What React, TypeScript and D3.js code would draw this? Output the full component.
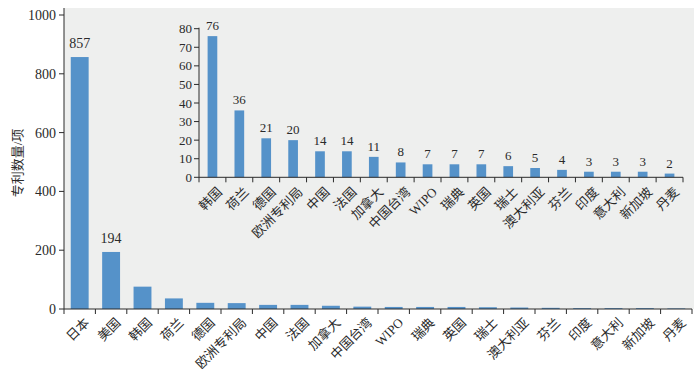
import * as d3 from 'd3';

// 国家/机构
const countries = [
  '日本', '美国', '韩国', '荷兰', '德国', '欧洲专利局', '中国', '法国', '加拿大', '中国台湾',
  'WIPO', '瑞典', '英国', '瑞士', '澳大利亚', '芬兰', '印度', '意大利', '新加坡', '丹麦',
];
// 专利数量
const counts = [857, 194, 76, 36, 21, 20, 14, 14, 11, 8, 7, 7, 7, 6, 5, 4, 3, 3, 3, 2];
const mainTicks = [0, 200, 400, 600, 800, 1000];
const insetTicks = [0, 10, 20, 30, 40, 50, 60, 70, 80];
const labelledMain = ['日本', '美国'];

const insetCountries = countries.slice(2);
const insetCounts = counts.slice(2);

const FONT = '"Liberation Serif", "Times New Roman", "Noto Sans CJK SC", serif';
const BAR = '#5592c9';
const INK = '#2a2a2a';

const App = () => {
  // main chart
  const left = 64, right = 692, top = 8, bottom = 309;
  const x = d3.scaleBand<string>().domain(countries).range([left, right])
    .paddingInner(0.43).paddingOuter(0.215);
  const y = d3.scaleLinear().domain([0, 1000]).range([bottom, 15]);
  const step = x.step();

  // inset chart
  const iLeft = 199, iRight = 683, iBottom = 177.3;
  const xi = d3.scaleBand<string>().domain(insetCountries).range([iLeft, iRight])
    .paddingInner(0.64).paddingOuter(0.32);
  const yi = d3.scaleLinear().domain([0, 80]).range([iBottom, 28.7]);
  const iStep = xi.step();

  return (
    <svg width={700} height={371} style={{ position: 'absolute', left: 0, top: 0 }}
      fontFamily={FONT}>
      <rect x={left} y={top} width={right - left + 2} height={bottom - top} fill="#eeefee" />

      {/* main bars */}
      {countries.map((c, i) => (
        <rect key={c} x={x(c)} y={y(counts[i])} width={x.bandwidth()}
          height={bottom - y(counts[i])} fill={BAR} />
      ))}
      {countries.map((c, i) => labelledMain.includes(c) && (
        <text key={'v' + c} x={x(c)! + x.bandwidth() / 2} y={y(counts[i]) - 9}
          textAnchor="middle" fontSize={14} fill={INK}>{counts[i]}</text>
      ))}

      {/* main y axis */}
      <line x1={left} x2={left} y1={top} y2={bottom} stroke={INK} />
      {mainTicks.map(t => (
        <g key={t}>
          <line x1={left - 5} x2={left} y1={y(t)} y2={y(t)} stroke={INK} />
          <text x={left - 8} y={y(t)} dy="0.35em" textAnchor="end" fontSize={14} fill={INK}>{t}</text>
        </g>
      ))}
      <text transform={`translate(22,163) rotate(-90)`} textAnchor="middle" fontSize={13}
        fill={INK}>专利数量/项</text>

      {/* main x axis */}
      <line x1={left} x2={right} y1={bottom} y2={bottom} stroke={INK} />
      {d3.range(countries.length + 1).map(i => (
        <line key={i} x1={left + i * step} x2={left + i * step} y1={bottom} y2={bottom + 5}
          stroke={INK} />
      ))}
      {countries.map(c => (
        <text key={'l' + c}
          transform={`translate(${x(c)! + x.bandwidth() / 2 + 4},${bottom + 8}) rotate(-45)`}
          textAnchor="end" dy="0.7em" fontSize={13} fill={INK}>{c}</text>
      ))}

      {/* inset bars */}
      {insetCountries.map((c, i) => (
        <rect key={'i' + c} x={xi(c)} y={yi(insetCounts[i])} width={xi.bandwidth()}
          height={iBottom - yi(insetCounts[i])} fill={BAR} />
      ))}
      {insetCountries.map((c, i) => (
        <text key={'iv' + c} x={xi(c)! + xi.bandwidth() / 2} y={yi(insetCounts[i]) - 6}
          textAnchor="middle" fontSize={13} fill={INK}>{insetCounts[i]}</text>
      ))}

      {/* inset y axis */}
      <line x1={iLeft} x2={iLeft} y1={yi(80) - 1} y2={iBottom} stroke={INK} />
      {insetTicks.map(t => (
        <g key={'it' + t}>
          <line x1={iLeft - 5} x2={iLeft} y1={yi(t)} y2={yi(t)} stroke={INK} />
          <text x={iLeft - 7} y={yi(t)} dy="0.35em" textAnchor="end" fontSize={13} fill={INK}>{t}</text>
        </g>
      ))}

      {/* inset x axis */}
      <line x1={iLeft} x2={iRight} y1={iBottom} y2={iBottom} stroke={INK} />
      {d3.range(insetCountries.length + 1).map(i => (
        <line key={'ix' + i} x1={iLeft + i * iStep} x2={iLeft + i * iStep} y1={iBottom}
          y2={iBottom + 5} stroke={INK} />
      ))}
      {insetCountries.map(c => (
        <text key={'il' + c}
          transform={`translate(${xi(c)! + xi.bandwidth() / 2 + 4},${iBottom + 9}) rotate(-45)`}
          textAnchor="end" dy="0.7em" fontSize={13} fill={INK}>{c}</text>
      ))}
    </svg>
  );
};

export default App;
